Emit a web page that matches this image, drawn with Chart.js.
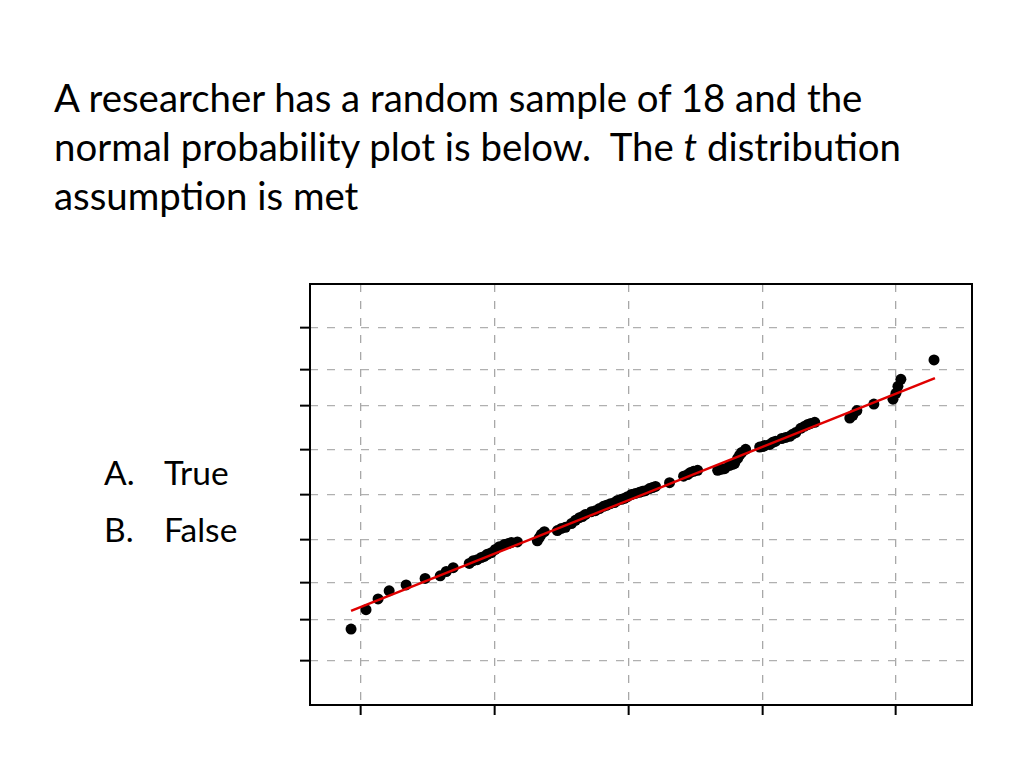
<!DOCTYPE html>
<html>
<head>
<meta charset="utf-8">
<script src="https://cdn.jsdelivr.net/npm/chart.js@4.4.1/dist/chart.umd.min.js"></script>
<style>
  html, body { margin: 0; padding: 0; background: #fff; }
  body { width: 1024px; height: 768px; position: relative; overflow: hidden; font-family: Lato, "Open Sans", sans-serif; color: #000; }
  .t { position: absolute; white-space: nowrap; line-height: 1; }
  .title { font-size: 38.4px; left: 54px; }
  .opt { font-size: 33.5px; }
  #wrap { position: absolute; left: 0; top: 0; width: 1024px; height: 768px; }
</style>
</head>
<body>
<div class="t title" style="top:78px">A researcher has a random sample of 18 and the</div>
<div class="t title" style="top:127px">normal probability plot is below.&nbsp; The <i>t</i> distribution</div>
<div class="t title" style="top:176px">assumption is met</div>
<div class="t opt" style="left:104px;top:456px">A.</div>
<div class="t opt" style="left:164px;top:456px">True</div>
<div class="t opt" style="left:104px;top:513px">B.</div>
<div class="t opt" style="left:164px;top:513px">False</div>
<div id="wrap"><canvas id="c" width="1024" height="768"></canvas></div>
<script>
// Observed sample values (x, arbitrary data units, tick spacing = 1) and normal scores (y, z-units)
const sampleX = [-0.075,0.037,0.127,0.210,0.337,0.479,0.592,0.637,0.689,0.809,0.839,0.869,0.899,0.921,0.944,0.974,1.004,1.034,1.071,1.101,1.124,1.169,1.318,1.333,1.348,1.371,1.468,1.498,1.528,1.573,1.603,1.633,1.655,1.678,1.723,1.753,1.783,1.813,1.835,1.865,1.895,1.918,1.948,1.970,1.993,2.022,2.052,2.082,2.105,2.127,2.157,2.180,2.202,2.307,2.412,2.442,2.464,2.487,2.517,2.667,2.697,2.719,2.757,2.779,2.794,2.816,2.831,2.846,2.876,2.981,3.004,3.019,3.056,3.079,3.101,3.146,3.176,3.206,3.228,3.251,3.288,3.318,3.341,3.363,3.393,3.655,3.678,3.708,3.835,3.978,4.000,4.015,4.037,4.285];
const normalScore = [-2.50,-2.14,-1.94,-1.79,-1.68,-1.56,-1.51,-1.43,-1.36,-1.28,-1.23,-1.21,-1.17,-1.15,-1.11,-1.08,-1.02,-0.97,-0.93,-0.91,-0.89,-0.88,-0.86,-0.80,-0.74,-0.69,-0.67,-0.63,-0.61,-0.54,-0.48,-0.43,-0.41,-0.37,-0.32,-0.30,-0.26,-0.22,-0.20,-0.17,-0.15,-0.11,-0.09,-0.07,-0.04,0.00,0.02,0.04,0.06,0.07,0.11,0.13,0.15,0.22,0.34,0.37,0.41,0.43,0.45,0.45,0.47,0.48,0.54,0.56,0.58,0.67,0.73,0.78,0.84,0.88,0.89,0.91,0.93,0.97,0.99,1.04,1.06,1.08,1.12,1.15,1.23,1.27,1.30,1.32,1.34,1.42,1.47,1.56,1.68,1.77,1.88,2.01,2.14,2.50];
// Fitted reference line end points
const fitX = [-0.075, 4.292];
const fitY = [-2.16, 2.16];
// Axis ticks (labels are not shown in the reference)
const xTicks = [0, 1, 2, 3, 4];
const yTicks = [-3.09, -2.326, -1.645, -0.8416, 0, 0.8416, 1.645, 2.326, 3.09]; // z of 0.1%,1%,5%,20%,50%,80%,95%,99%,99.9%
const xRange = [-0.382, 4.569];
const yRange = [-3.91, 3.91];

const boxPlugin = {
  id: 'box',
  afterDraw(chart) {
    const a = chart.chartArea, ctx = chart.ctx;
    ctx.save();
    ctx.strokeStyle = '#000';
    ctx.lineWidth = 2;
    ctx.setLineDash([]);
    ctx.strokeRect(a.left, a.top, a.right - a.left, a.bottom - a.top);
    ctx.restore();
  }
};

new Chart(document.getElementById('c'), {
  type: 'scatter',
  data: {
    datasets: [
      {
        type: 'line',
        data: fitX.map((x, i) => ({ x, y: fitY[i] })),
        borderColor: '#e00000',
        borderWidth: 2.5,
        pointRadius: 0,
        fill: false,
        order: 0
      },
      {
        data: sampleX.map((x, i) => ({ x, y: normalScore[i] })),
        backgroundColor: '#000',
        borderColor: '#000',
        pointRadius: 5.5,
        pointBorderWidth: 0,
        order: 1
      }
    ]
  },
  options: {
    responsive: false,
    animation: false,
    events: [],
    layout: { padding: { left: 300, right: 52, top: 284, bottom: 53 } },
    plugins: { legend: { display: false }, tooltip: { enabled: false } },
    scales: {
      x: {
        type: 'linear', min: xRange[0], max: xRange[1],
        afterBuildTicks: s => { s.ticks = xTicks.map(v => ({ value: v })); },
        ticks: { display: false },
        grid: { color: '#a8a8a8', lineWidth: 1.3, tickColor: '#000', tickWidth: 2, tickLength: 10, tickBorderDash: [] },
        border: { display: false, dash: [8, 9] }
      },
      y: {
        type: 'linear', min: yRange[0], max: yRange[1],
        afterBuildTicks: s => { s.ticks = yTicks.map(v => ({ value: v })); },
        ticks: { display: false },
        grid: { color: '#b0b0b0', lineWidth: 1.3, tickColor: '#000', tickWidth: 2, tickLength: 10, tickBorderDash: [] },
        border: { display: false, dash: [8, 9] }
      }
    }
  },
  plugins: [boxPlugin]
});
</script>
</body>
</html>
